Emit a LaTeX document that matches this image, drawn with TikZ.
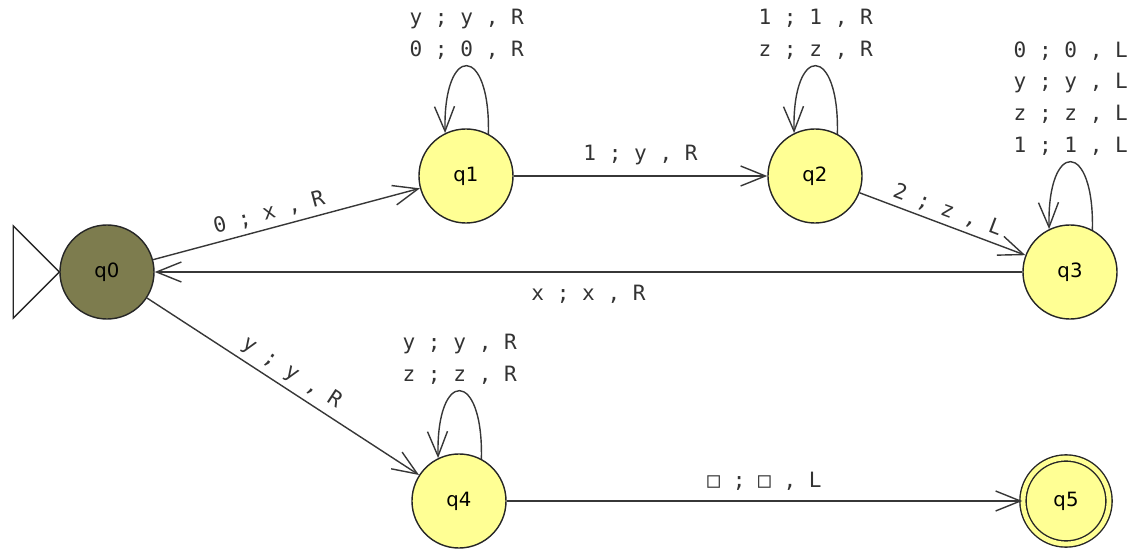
\documentclass[tikz,border=0pt]{standalone}
\usepackage{fontspec}
\usetikzlibrary{arrows.meta}

\newfontfamily\statefont{DejaVu Sans}
\newfontfamily\labelfont{DejaVu Sans Mono}

\definecolor{stateyellow}{RGB}{255,255,148}
\definecolor{startolive}{RGB}{125,124,78}
\definecolor{edgegray}{RGB}{55,55,55}

\tikzset{
    state/.style={circle, draw=black!85, line width=1pt, fill=stateyellow,
        minimum size=2.35cm, inner sep=0pt, font=\statefont\fontsize{14}{16}\selectfont},
    trans/.style={draw=edgegray, line width=1pt,
        -{Straight Barb[length=0.62cm, width=0.5cm, line width=1pt]}},
    tlabel/.style={font=\labelfont\fontsize{15}{22.5}\selectfont, text=black!80,
        inner sep=1pt, align=center},
}

\begin{document}
\begin{tikzpicture}[x=0.025cm, y=-0.025cm]
    \path (0,0) rectangle (1133,548);

    \node [state, fill=startolive] (q0) at (107,272) {q0};
    \node [state] (q1) at (466,176) {q1};
    \node [state] (q2) at (815,176) {q2};
    \node [state] (q3) at (1070,272) {q3};
    \node [state] (q4) at (459,501) {q4};
    \node [state, double=stateyellow, double distance=0.12cm, minimum size=2.15cm] (q5) at (1066,501) {q5};

    % start marker
    \draw [line width=1pt, draw=black!85] (q0.west) -- ++(-46,-46) -- ++(0,92) -- cycle;

    \draw [trans] (q0) -- node [tlabel, sloped, above=0.1cm, pos=0.45] (t01) {0 ; x , R} (q1);
    \draw [trans] (q1) -- node [tlabel, above=0.22cm] (t12) {1 ; y , R} (q2);
    \draw [trans] (q2) -- node [tlabel, sloped, above=0.08cm] (t23) {2 ; z , L} (q3);
    \draw [trans] (q3) -- node [tlabel, below=0.28cm] (t30) {x ; x , R} (q0);
    \draw [trans] (q0) -- node [tlabel, sloped, above=0.1cm] (t04) {y ; y , R} (q4);
    \draw [trans] (q4) -- node [tlabel, above=0.22cm] (t45) {□ ; □ , L} (q5);

    % self loops
    \draw [trans] (q1.62) .. controls +(2,-90) and +(-2,-90) .. (q1.116)
        node [tlabel, midway, above=0.12cm] (t11) {y ; y , R\\0 ; 0 , R};
    \draw [trans] (q2.62) .. controls +(2,-90) and +(-2,-90) .. (q2.116)
        node [tlabel, midway, above=0.12cm] (t22) {1 ; 1 , R\\z ; z , R};
    \draw [trans] (q3.62) .. controls +(2,-90) and +(-2,-90) .. (q3.116)
        node [tlabel, midway, above=0.12cm] (t33) {0 ; 0 , L\\y ; y , L\\z ; z , L\\1 ; 1 , L};
    \draw [trans] (q4.62) .. controls +(2,-90) and +(-2,-90) .. (q4.116)
        node [tlabel, midway, above=0.12cm] (t44) {y ; y , R\\z ; z , R};

\end{tikzpicture}
\end{document}
